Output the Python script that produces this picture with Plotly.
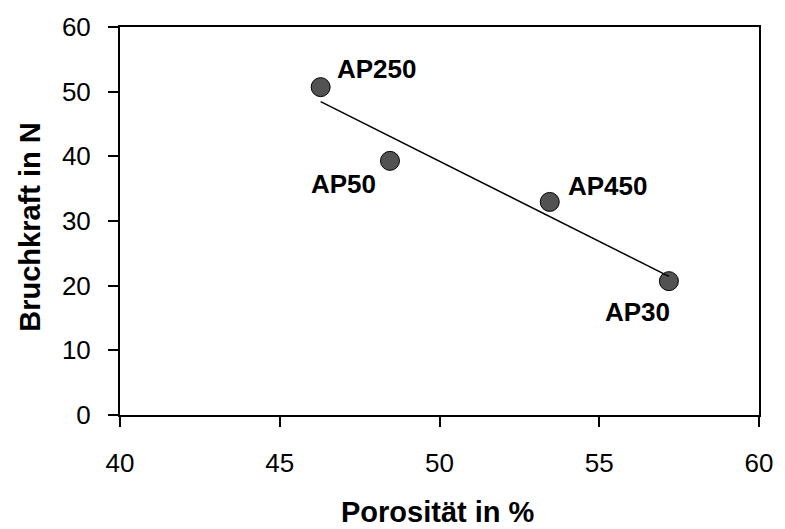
import numpy as np
import plotly.graph_objects as go

# Data
labels = ["AP250", "AP50", "AP450", "AP30"]
porositaet = [46.28, 48.45, 53.45, 57.18]
bruchkraft = [50.7, 39.3, 32.95, 20.7]
x_ticks = [40, 45, 50, 55, 60]
y_ticks = [0, 10, 20, 30, 40, 50, 60]
x_title = "Porosität in %"
y_title = "Bruchkraft in N"

# label offsets in pixels (xshift, yshift)
label_dx = [56, -46, 58, -31]
label_dy = [18, -23, 16, -31]

FONT = "Liberation Sans, Arial, sans-serif"

slope, intercept = np.polyfit(porositaet, bruchkraft, 1)
tx = [min(porositaet), max(porositaet)]
ty = [slope * v + intercept for v in tx]

fig = go.Figure()
fig.add_trace(go.Scatter(
    x=porositaet, y=bruchkraft, mode="markers",
    marker=dict(size=19, color="#525252", line=dict(color="black", width=1)),
    showlegend=False, hoverinfo="skip"))
fig.add_trace(go.Scatter(
    x=tx, y=ty, mode="lines",
    line=dict(color="black", width=1.5),
    showlegend=False, hoverinfo="skip"))

for lab, xv, yv, dx, dy in zip(labels, porositaet, bruchkraft, label_dx, label_dy):
    fig.add_annotation(x=xv, y=yv, text="<b>%s</b>" % lab, showarrow=False,
                       xshift=dx, yshift=dy,
                       font=dict(family=FONT, size=26, color="black"))

# axis titles as annotations (paper coords relative to plot area)
fig.add_annotation(xref="paper", yref="paper", x=-0.141, y=0.485,
                   text="<b>%s</b>" % y_title, textangle=-90, showarrow=False,
                   xanchor="center", yanchor="middle",
                   font=dict(family=FONT, size=29, color="black"))
fig.add_annotation(xref="paper", yref="paper", x=0.498, y=-0.25,
                   text="<b>%s</b>" % x_title, showarrow=False,
                   xanchor="center", yanchor="middle",
                   font=dict(family=FONT, size=29, color="black"))

axis_common = dict(
    showgrid=False, zeroline=False, showline=True, linecolor="black",
    linewidth=2, mirror=True, ticks="outside", ticklen=10, tickwidth=1.5,
    tickcolor="black", tickfont=dict(family=FONT, size=26, color="black"),
)

fig.update_xaxes(range=[40, 60], tickvals=x_ticks, ticktext=[str(v) for v in x_ticks],
                 ticklabelstandoff=14, **axis_common)
fig.update_yaxes(range=[0, 60], tickvals=y_ticks, ticktext=[str(v) for v in y_ticks],
                 ticklabelstandoff=12, **axis_common)

fig.update_layout(
    width=785, height=529,
    margin=dict(l=120, r=19, t=24, b=114, pad=0),
    plot_bgcolor="white", paper_bgcolor="white",
    font=dict(family=FONT, color="black"),
)

fig.write_html("out.html")
